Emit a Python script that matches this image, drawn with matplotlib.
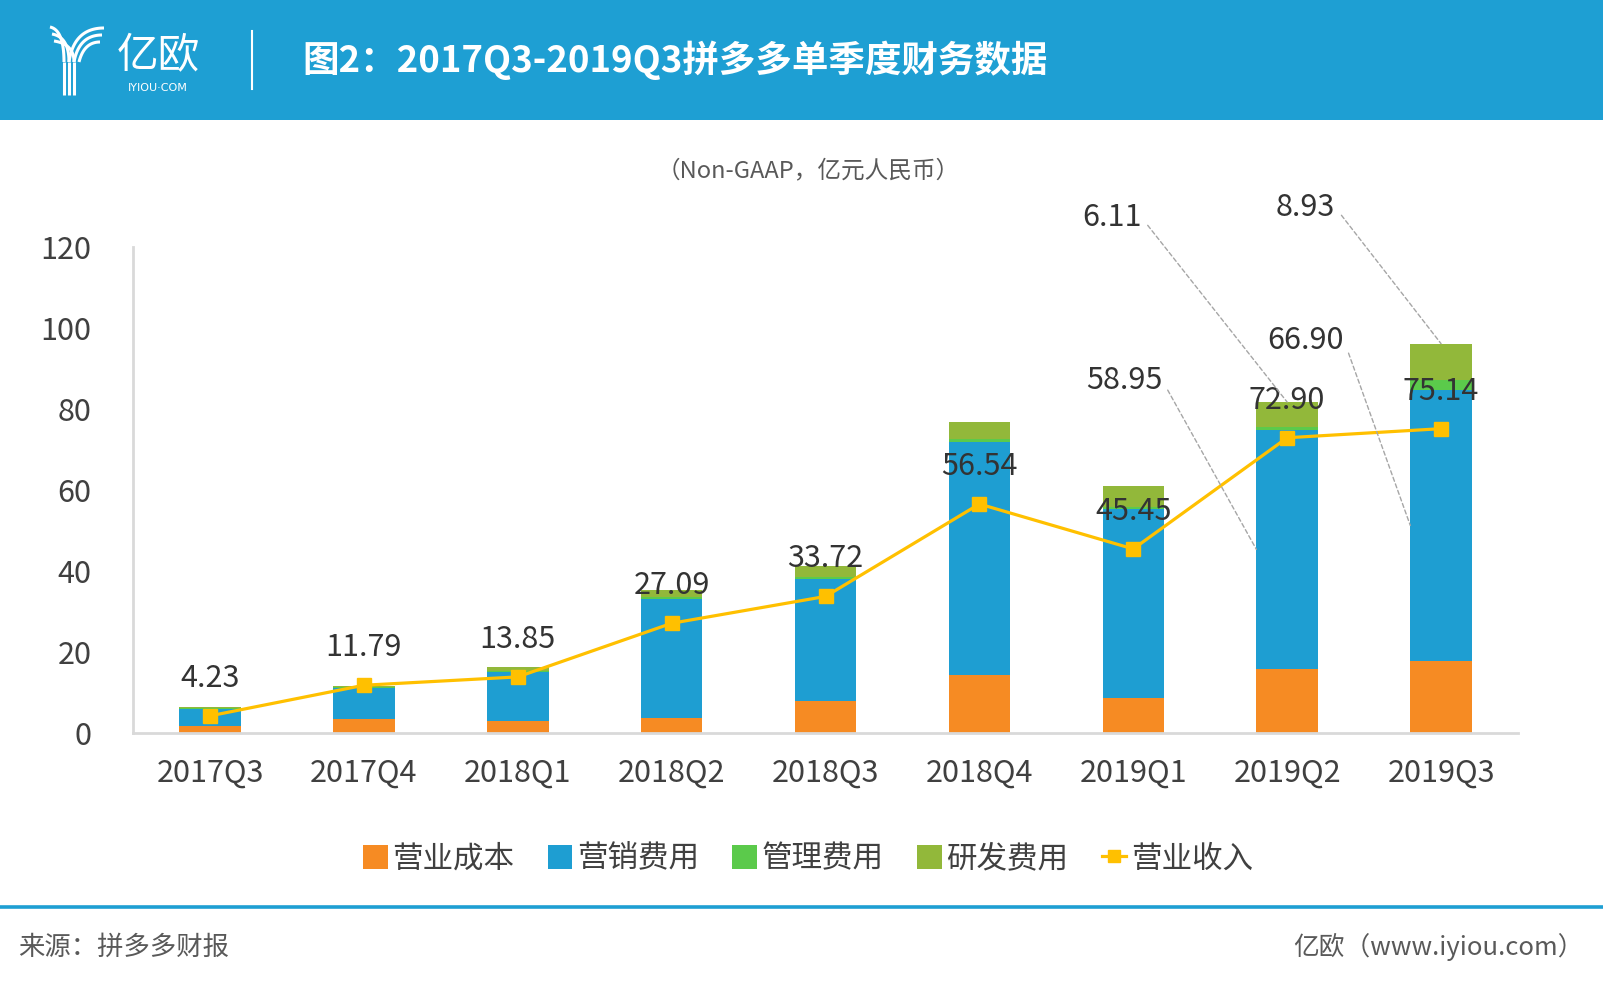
import matplotlib
matplotlib.use("Agg")
import matplotlib.pyplot as plt
import numpy as np
from matplotlib.patches import Rectangle
from matplotlib.lines import Line2D

plt.rcParams['font.family'] = ['Noto Sans CJK SC', 'DejaVu Sans']

# data (亿元, Non-GAAP)
quarters = ['2017Q3', '2017Q4', '2018Q1', '2018Q2', '2018Q3', '2018Q4', '2019Q1', '2019Q2', '2019Q3']
cost = [1.8, 3.5, 3.0, 3.8, 7.9, 14.3, 8.7, 15.85, 17.8]          # 营业成本
marketing = [4.1, 7.6, 12.1, 29.4, 30.2, 57.5, 46.5, 58.95, 66.90]  # 营销费用
admin = [0.2, 0.2, 0.3, 0.4, 0.4, 0.9, 0.7, 0.8, 2.5]              # 管理费用
rnd = [0.4, 0.4, 0.8, 1.7, 2.8, 4.2, 5.1, 6.11, 8.93]              # 研发费用
revenue = [4.23, 11.79, 13.85, 27.09, 33.72, 56.54, 45.45, 72.90, 75.14]  # 营业收入

series_names = ['营业成本', '营销费用', '管理费用', '研发费用']
line_name = '营业收入'

# callouts: (quarter index, series index)
callouts = [(7, 1), (7, 3), (8, 1), (8, 3)]
callout_text_pos = [(5.94, 87.1), (5.86, 127.3), (7.12, 97.0), (7.12, 129.8)]

colors = ['#F68B23', '#1E9ED2', '#5BCA4B', '#92B83A']
line_color = '#FFC000'
blue_head = '#1E9FD3'
text_dark = '#404040'

W, H = 1603, 986
fig = plt.figure(figsize=(W / 100, H / 100), dpi=100)

# ---- decoration layer in pixel coords ----
bg = fig.add_axes([0, 0, 1, 1], zorder=0)
bg.set_xlim(0, W)
bg.set_ylim(H, 0)
bg.axis('off')
bg.add_patch(Rectangle((0, 0), W, 120, color=blue_head, lw=0))

# logo strokes (rough)
t = np.linspace(0, 1, 40)
for k in range(3):
    # left arm
    x0, y0 = 50 + 2 * k, 27 + 7 * k
    x1, y1 = 64 + 5 * k, 62
    cx, cy = 64 + 5 * k, 30 + 7 * k
    xs = (1 - t) ** 2 * x0 + 2 * (1 - t) * t * cx + t ** 2 * x1
    ys = (1 - t) ** 2 * y0 + 2 * (1 - t) * t * cy + t ** 2 * y1
    bg.plot(xs, ys, color='white', lw=2.2, solid_capstyle='butt')
    bg.plot([x1, x1], [y1, 95], color='white', lw=2.2, solid_capstyle='butt')
for k in range(3):
    # right arm
    x0, y0 = 104 - 2 * k, 28 + 7 * k
    x1, y1 = 69 + 5 * k, 62
    cx, cy = 74 + 5 * k, 28 + 7 * k
    xs = (1 - t) ** 2 * x0 + 2 * (1 - t) * t * cx + t ** 2 * x1
    ys = (1 - t) ** 2 * y0 + 2 * (1 - t) * t * cy + t ** 2 * y1
    bg.plot(xs, ys, color='white', lw=2.2, solid_capstyle='butt')
bg.text(158, 57, '亿欧', color='white', fontsize=30, fontweight='light',
        ha='center', va='center')
bg.text(158, 88, 'IYIOU·COM', color='white', fontsize=8, ha='center', va='center',
        family=['DejaVu Sans'])
bg.plot([252, 252], [31, 89], color='white', lw=1.5)
bg.text(302, 60, '图2：2017Q3-2019Q3拼多多单季度财务数据', color='white',
        fontsize=26.3, fontweight='bold', ha='left', va='center')

bg.text(808, 171, '（Non-GAAP，亿元人民币）', color='#595959', fontsize=17,
        ha='center', va='center')

bg.plot([0, W], [907, 907], color=blue_head, lw=2.6)
bg.text(18, 947, '来源：拼多多财报', color='#595959', fontsize=19,
        ha='left', va='center')
bg.text(1584, 947, '亿欧（www.iyiou.com）', color='#595959', fontsize=18.5,
        ha='right', va='center')

# ---- chart ----
ax = fig.add_axes([133 / W, 1 - 733 / H, (1518 - 133) / W, (733 - 247) / H], zorder=2)
ax.patch.set_alpha(0)

x = np.arange(len(quarters))
stack = [np.array(cost), np.array(marketing), np.array(admin), np.array(rnd)]
bottom = np.zeros(len(quarters))
bottoms = []
for vals, c, name in zip(stack, colors, series_names):
    bottoms.append(bottom.copy())
    ax.bar(x, vals, 0.4, bottom=bottom, color=c, lw=0, label=name, zorder=2)
    bottom = bottom + vals

ax.plot(x, revenue, color=line_color, lw=2.3, marker='s', ms=9.5, zorder=4)
for xi, v in zip(x, revenue):
    ax.annotate(f'{v:.2f}', (xi, v), xytext=(0, 27), textcoords='offset points',
                ha='center', va='center', fontsize=22, fontweight='light',
                color='#333333', zorder=5)

# callouts with leader lines
for (qi, si), (tx, ty) in zip(callouts, callout_text_pos):
    val = stack[si][qi]
    if si == 3:
        tgt = (qi, bottoms[si][qi] + val)
    else:
        tgt = (qi - 0.2, bottoms[si][qi] + val / 2)
    ax.annotate(f'{val:.2f}', xy=tgt, xytext=(tx, ty), textcoords='data',
                ha='center', va='center', fontsize=22, fontweight='light',
                color='#333333', annotation_clip=False, zorder=5,
                arrowprops=dict(arrowstyle='-', color='#A6A6A6', lw=1.0,
                                ls=(0, (3, 2)), relpos=(1, 0.5),
                                shrinkA=4, shrinkB=0))

ax.set_xlim(-0.5, 8.5)
ax.set_ylim(0, 120)
ax.set_yticks(range(0, 121, 20))
ax.set_xticks(x)
ax.set_xticklabels(quarters)
ax.tick_params(axis='both', length=0, labelsize=22, labelcolor=text_dark)
ax.tick_params(axis='y', pad=30)
ax.tick_params(axis='x', pad=18)
for lab in ax.get_xticklabels() + ax.get_yticklabels():
    lab.set_fontweight('light')
for s in ['top', 'right']:
    ax.spines[s].set_visible(False)
for s in ['left', 'bottom']:
    ax.spines[s].set_color('#D9D9D9')
    ax.spines[s].set_linewidth(2)

handles = [Rectangle((0, 0), 1, 1, color=c, lw=0) for c in colors]
handles.append(Line2D([0], [0], color=line_color, lw=2.3, marker='s', ms=8))
labels = series_names + [line_name]
leg = fig.legend(handles, labels, loc='center', bbox_to_anchor=(808 / W, 1 - 859 / H),
                 ncol=5, frameon=False, fontsize=22, handlelength=0.8, handleheight=0.8,
                 handletextpad=0.15, columnspacing=1.1)
for txt in leg.get_texts():
    txt.set_color(text_dark)
    txt.set_fontweight('light')

fig.savefig('out.png', dpi=100)
